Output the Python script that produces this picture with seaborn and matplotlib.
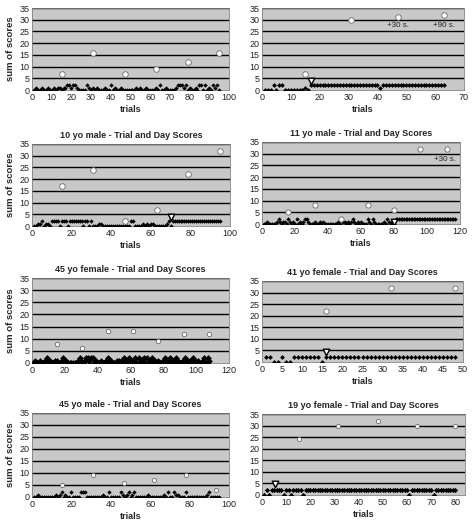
import seaborn as sns
import matplotlib.pyplot as plt

sns.set_style("white")
plt.rcParams['font.family'] = ['Liberation Sans', 'DejaVu Sans']

# ---- data ----
titles = [None, None,
          "10 yo male - Trial and Day Scores", "11 yo male - Trial and Day Scores",
          "45 yo female - Trial and Day Scores", "41 yo female - Trial and Day Scores",
          "45 yo male - Trial and Day Scores", "19 yo female - Trial and Day Scores"]

p1_trials = [0, 1, 0, 0, 1, 0, 0, 1, 0, 0,
             1, 0, 1, 1, 0, 1, 1, 2, 2, 1,
             2, 2, 1, 0, 0, 0, 0, 2, 1, 0,
             1, 0, 1, 0, 0, 0, 1, 0, 0, 2,
             0, 1, 0, 0, 1, 0, 0, 0, 0, 0,
             0, 0, 1, 0, 1, 0, 0, 1, 0, 0,
             0, 0, 1, 0, 2, 0, 0, 1, 0, 0,
             0, 0, 1, 2, 2, 2, 1, 2, 0, 1,
             0, 0, 1, 0, 2, 2, 0, 2, 0, 1,
             0, 2, 1, 2, 0]
p1_day_x = [15, 31, 47, 63, 79, 95]
p1_day_y = [7, 16, 7, 9, 12, 16]

p2_trials = [0, 0, 0, 2, 0, 2, 2, 0, 0, 0,
             0, 0, 0, 0, 1, 0,
             2, 2, 2, 2, 2, 2, 2, 2, 2, 2,
             2, 2, 2, 2, 2, 2, 2, 2, 2, 2,
             2, 2, 2, 2,
             1,
             2, 2, 2, 2, 2, 2, 2, 2, 2, 2,
             2, 2, 2, 2, 2, 2, 2, 2, 2, 2,
             2, 2]
p2_day_x = [15, 31, 47, 63]
p2_day_y = [7, 30, 31, 32]

p3_trials = [0, 0, 1, 1, 2, 0, 1, 1, 0, 2,
             2, 2, 2, 0, 2, 2, 2, 0, 2, 2,
             2, 2, 2, 2, 2, 0, 2, 2, 0, 2,
             0, 0, 0, 1, 1, 0, 0, 0, 0, 0,
             0, 0, 0, 0, 0, 0, 0, 0, 0, 2,
             2, 0, 0, 0, 0, 1, 0, 1, 0, 1,
             1, 0, 0, 0, 0, 0, 0, 1, 2, 0,
             2, 2, 2, 2, 2, 2, 2, 2, 2, 2,
             2, 2, 2, 2, 2, 2, 2, 2, 2, 2,
             2, 2, 2, 2, 2]
p3_day_x = [15, 31, 47, 63, 79, 95]
p3_day_y = [17, 24, 2, 7, 22, 32]

p4_trials = [0, 0, 1, 0, 0, 0, 0, 0, 1, 2,
             1, 0, 1, 1, 0, 2, 1, 0, 1, 0,
             2, 0, 1, 0, 1, 2, 2, 1, 0, 0,
             0, 1, 0, 0, 1, 0, 1, 0, 0, 0,
             0, 0, 0, 0, 0, 1, 0, 2, 1, 1,
             0, 1, 0, 1, 2, 1, 0, 1, 0, 1,
             0, 0, 0, 2, 1, 0, 2, 1, 0, 0,
             0, 0, 0, 1, 0, 2, 1, 0, 1, 0,
             2, 2, 2, 2, 2, 2, 2, 2, 2, 2,
             2, 2, 2, 2, 2, 2, 2, 2, 2, 2,
             2, 2, 2, 2, 2, 2, 2, 2, 2, 2,
             2, 2, 2, 2, 2, 2, 2]
p4_day_x = [16, 32, 48, 64, 80, 96, 112]
p4_day_y = [5, 8, 2, 8, 6, 32, 32]

p5_trials = [0, 1, 0, 0, 1, 0, 0, 1, 2, 1,
             1, 0, 0, 1, 1, 0, 0, 1, 2, 1,
             1, 0, 0, 0, 0, 0, 0, 1, 2, 1,
             0, 1, 2, 2, 1, 2, 2, 0, 1, 0,
             0, 1, 0, 0, 1, 2, 0, 1, 0, 0,
             0, 1, 1, 0, 1, 2, 0, 1, 2, 1,
             0, 1, 2, 0, 2, 0, 1, 2, 0, 2,
             0, 1, 2, 0, 1, 0, 1, 0, 0, 1,
             2, 0, 1, 2, 0, 1, 0, 2, 1, 0,
             0, 1, 2, 0, 1, 1, 0, 2, 1, 0,
             1, 0, 0, 1, 2, 0, 2, 1]
p5_day_x = [15, 30.5, 46, 61.5, 77, 92.5, 108]
p5_day_y = [8, 6, 13, 13, 9, 12, 12]

p6_trials = [2, 2, 0, 0, 2, 0, 0, 2, 2, 2,
             2, 2, 2, 2, 0,
             2, 2, 2, 2, 2, 2, 2, 2, 2, 2,
             2, 2, 2, 2, 2, 2, 2, 2, 2, 2,
             2, 2, 2, 2, 2, 2, 2, 2, 2, 2,
             2, 2, 2]
p6_day_x = [16, 32, 48]
p6_day_y = [22, 32, 32]

p7_trials = [0, 0, 1, 0, 0, 0, 0, 0, 0, 0,
             0, 1, 0, 1, 2, 0, 1, 0, 0, 2,
             0, 0, 0, 0, 2, 2, 2, 0, 0, 0,
             0, 0, 0, 0, 0, 1, 0, 0, 2, 0,
             0, 0, 0, 0, 2, 1, 0, 1, 2, 0,
             1, 2, 0, 0, 0, 0, 0, 0, 1, 0,
             0, 0, 0, 0, 0, 0, 1, 0, 2, 0,
             0, 2, 1, 1, 0, 0, 0, 2, 0, 0,
             0, 0, 0, 0, 0, 0, 0, 0, 1, 2,
             0, 0, 0, 0, 0]
p7_day_x = [15, 31, 46.5, 62, 78, 93.5]
p7_day_y = [5, 9, 6, 7, 9, 3]

p8_trials = [0, 2, 0, 2, 2, 2, 2, 2, 0, 2,
             2, 0, 2, 2, 2, 2, 0, 2, 2, 2,
             2, 2, 2, 2, 2, 2, 2, 2, 2, 2,
             2, 2, 2, 2, 2, 2, 2, 2, 2, 2,
             2, 2, 2, 2, 2, 2, 2, 2, 2, 2,
             2, 2, 2, 2, 2, 2, 2, 2, 2, 2,
             0, 2, 2, 2, 2, 2, 2, 2, 2, 2,
             0, 2, 2, 2, 2, 2, 2, 2, 2, 2]
p8_day_x = [15.5, 31.5, 48, 64, 80]
p8_day_y = [24, 30, 32, 30, 30]

# criterion markers (inverted triangles)
tri_x = [None, 17, 70, 80, None, 16, None, 5.5]
tri_y = [None, 4, 4, 0.8, None, 4.5, None, 4.7]

# "+30 s." style notes: (panel, x, y, text)
notes = [(1, 47, 27.4, "+30 s."), (1, 63, 27.4, "+90 s."), (3, 111, 27.4, "+30 s.")]

x_max = [100, 70, 100, 120, 120, 50, 100, 84]
x_step = [10, 10, 20, 20, 20, 5, 20, 10]

trials = [p1_trials, p2_trials, p3_trials, p4_trials, p5_trials, p6_trials, p7_trials, p8_trials]
day_x = [p1_day_x, p2_day_x, p3_day_x, p4_day_x, p5_day_x, p6_day_x, p7_day_x, p8_day_x]
day_y = [p1_day_y, p2_day_y, p3_day_y, p4_day_y, p5_day_y, p6_day_y, p7_day_y, p8_day_y]

# ---- layout (pixel boxes: left, top, right, bottom) ----
W, H = 472, 531
boxes = [(32, 8, 229, 90), (262, 8, 464, 90),
         (32, 144, 230, 226), (262, 142, 460, 224),
         (32, 278, 229, 363), (262, 281, 463, 362),
         (32, 413, 229, 497), (262, 414, 465, 495)]
dot_size = [5, 6, 5, 5, 12, 6, 5, 7]
circ_size = [16, 16, 16, 14, 10, 14, 9, 9]

fig = plt.figure(figsize=(W / 100, H / 100), dpi=100)

for i in range(8):
    l, t, r, b = boxes[i]
    ax = fig.add_axes([l / W, (H - b) / H, (r - l) / W, (b - t) / H])
    ax.set_facecolor('#c8c8c8')
    for yv in range(5, 40, 5):
        ax.axhline(yv, color='black', lw=1.0, zorder=1)

    xs = list(range(1, len(trials[i]) + 1))
    sns.scatterplot(x=xs, y=trials[i], ax=ax, color='black', marker='D',
                    s=dot_size[i], linewidth=0, zorder=3)
    sns.scatterplot(x=day_x[i], y=day_y[i], ax=ax, color='white', marker='o',
                    s=circ_size[i], edgecolor='#6a6a6a', linewidth=0.6, zorder=4)
    if tri_x[i] is not None:
        sns.scatterplot(x=[tri_x[i]], y=[tri_y[i]], ax=ax, color='white', marker='v',
                        s=22, edgecolor='black', linewidth=1.0, zorder=5)
    for (p, nx, ny, txt) in notes:
        if p == i:
            ax.text(nx, ny, txt, ha='center', va='center', fontsize=5.8, color='#222222')

    ax.set_xlim(0, x_max[i])
    ax.set_ylim(0, 35)
    ax.set_xticks(range(0, x_max[i] + 1, x_step[i]))
    ax.set_yticks(range(0, 36, 5))
    ax.tick_params(length=0, pad=2, labelsize=6.5, colors='#222222')
    for s in ax.spines.values():
        s.set_color('#808080')
        s.set_linewidth(0.6)

    ax.set_xlabel("trials", fontsize=6.5, fontweight='bold', labelpad=2)
    if i % 2 == 0:
        ax.set_ylabel("sum of scores", fontsize=6.8, fontweight='bold', labelpad=3)
    else:
        ax.set_ylabel("")
    if titles[i]:
        ax.set_title(titles[i], fontsize=6.5, fontweight='bold', pad=4)

fig.savefig("out.png", dpi=100)
